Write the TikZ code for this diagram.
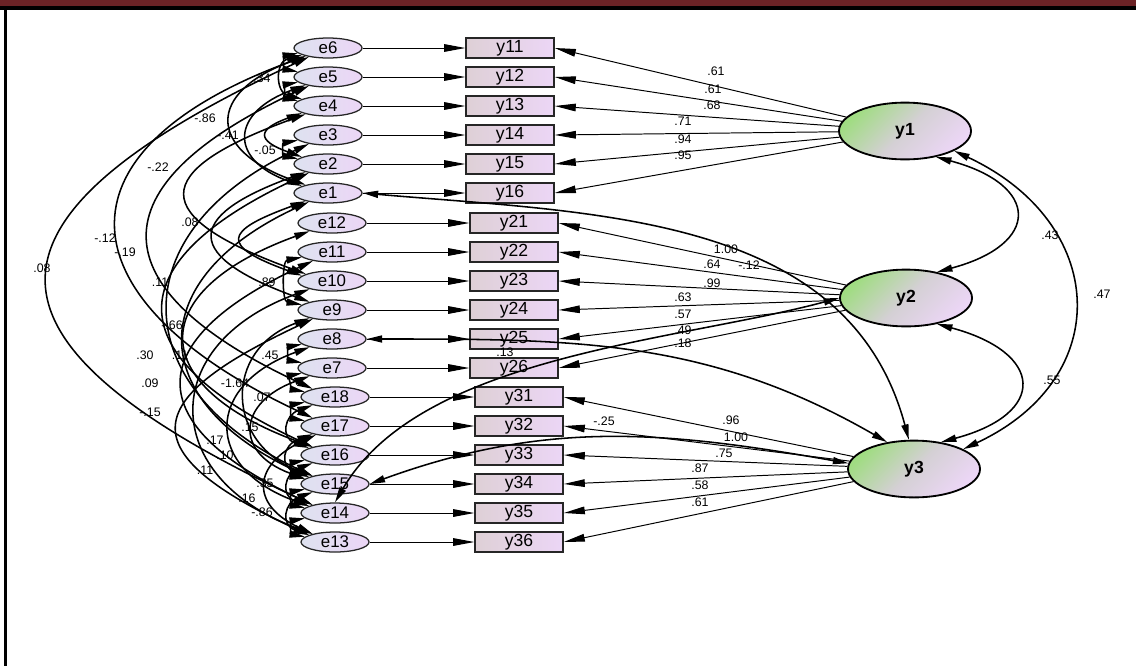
\documentclass[tikz,border=0pt]{standalone}
\usepackage{fontspec}
\setmainfont{Liberation Sans}
\usetikzlibrary{arrows.meta,shapes.geometric}
\definecolor{FrameRed}{RGB}{107,35,38}
\definecolor{ErrBlue}{RGB}{222,226,240}
\definecolor{Lilac}{RGB}{236,214,246}
\definecolor{BoxRose}{RGB}{222,208,214}
\definecolor{LatGreen}{RGB}{160,220,130}
\definecolor{LatGrey}{RGB}{212,208,212}
\tikzset{
  err/.style={ellipse,draw=black!85,line width=.9pt,left color=ErrBlue,right color=Lilac,minimum width=1.7cm,minimum height=.5cm,inner sep=0pt,font=\fontsize{12}{13}\selectfont},
  obs/.style={rectangle,draw=black!85,line width=1pt,left color=BoxRose,right color=Lilac,minimum width=2.2cm,minimum height=.5cm,inner sep=0pt,font=\fontsize{12.5}{13}\selectfont},
  latent/.style={ellipse,draw=black,line width=1.3pt,top color=LatGreen,bottom color=Lilac,middle color=LatGrey,shading angle=45,minimum width=3.3cm,minimum height=1.42cm,font=\bfseries\fontsize{12.5}{13}\selectfont},
  reg/.style={-{Triangle[length=15pt,width=5.4pt]},line width=.7pt},
  cov/.style={{Triangle[length=11pt,width=5pt]}-{Triangle[length=11pt,width=5pt]},line width=1.1pt},
  coef/.style={font=\fontsize{8.8}{10}\selectfont,inner sep=1pt}
}
\begin{document}
\begin{tikzpicture}[x=0.025cm,y=-0.025cm]
  \useasboundingbox (0,0) rectangle (1136,666);
  % page frame
  \fill[FrameRed] (0,0) rectangle (1136,5.5);
  \fill[black] (0,5.5) rectangle (1136,9.5);
  \fill[black] (3.5,5.5) rectangle (6.5,666);

  % latent factors
  \node[latent] (y1) at (905,131) {y1};
  \node[latent] (y2) at (906,298) {y2};
  \node[latent] (y3) at (914,469) {y3};

  % indicators of y1
  \node[obs] (y11) at (510,48) {y11};
  \node[obs] (y12) at (510,77) {y12};
  \node[obs] (y13) at (510,106) {y13};
  \node[obs] (y14) at (510,135) {y14};
  \node[obs] (y15) at (510,164) {y15};
  \node[obs] (y16) at (510,193) {y16};
  % indicators of y2
  \node[obs] (y21) at (514,223) {y21};
  \node[obs] (y22) at (514,252) {y22};
  \node[obs] (y23) at (514,281) {y23};
  \node[obs] (y24) at (514,310) {y24};
  \node[obs] (y25) at (514,339) {y25};
  \node[obs] (y26) at (514,368) {y26};
  % indicators of y3
  \node[obs] (y31) at (519,397) {y31};
  \node[obs] (y32) at (519,426) {y32};
  \node[obs] (y33) at (519,455) {y33};
  \node[obs] (y34) at (519,484) {y34};
  \node[obs] (y35) at (519,513) {y35};
  \node[obs] (y36) at (519,542) {y36};

  % error terms
  \node[err] (e6) at (328,48) {e6};
  \node[err] (e5) at (328,77) {e5};
  \node[err] (e4) at (328,106) {e4};
  \node[err] (e3) at (328,135) {e3};
  \node[err] (e2) at (328,164) {e2};
  \node[err] (e1) at (328,193) {e1};
  \node[err] (e12) at (332,223) {e12};
  \node[err] (e11) at (332,252) {e11};
  \node[err] (e10) at (332,281) {e10};
  \node[err] (e9) at (332,310) {e9};
  \node[err] (e8) at (332,339) {e8};
  \node[err] (e7) at (332,368) {e7};
  \node[err] (e18) at (335,397) {e18};
  \node[err] (e17) at (335,426) {e17};
  \node[err] (e16) at (335,455) {e16};
  \node[err] (e15) at (335,484) {e15};
  \node[err] (e14) at (335,513) {e14};
  \node[err] (e13) at (335,542) {e13};

  % errors into indicators
  \draw[reg] (e6)--(y11); \draw[reg] (e5)--(y12); \draw[reg] (e4)--(y13);
  \draw[reg] (e3)--(y14); \draw[reg] (e2)--(y15); \draw[reg] (e1)--(y16);
  \draw[reg] (e12)--(y21); \draw[reg] (e11)--(y22); \draw[reg] (e10)--(y23);
  \draw[reg] (e9)--(y24); \draw[reg] (e8)--(y25); \draw[reg] (e7)--(y26);
  \draw[reg] (e18)--(y31); \draw[reg] (e17)--(y32); \draw[reg] (e16)--(y33);
  \draw[reg] (e15)--(y34); \draw[reg] (e14)--(y35); \draw[reg] (e13)--(y36);

  % loadings
  \draw[reg] (y1)--(y11.east); \draw[reg] (y1)--(y12.east); \draw[reg] (y1)--(y13.east);
  \draw[reg] (y1)--(y14.east); \draw[reg] (y1)--(y15.east); \draw[reg] (y1)--(y16.east);
  \draw[reg] (y2)--(y21.east); \draw[reg] (y2)--(y22.east); \draw[reg] (y2)--(y23.east);
  \draw[reg] (y2)--(y24.east); \draw[reg] (y2)--(y25.east); \draw[reg] (y2)--(y26.east);
  \draw[reg] (y3)--(y31.east); \draw[reg] (y3)--(y32.east); \draw[reg] (y3)--(y33.east);
  \draw[reg] (y3)--(y34.east); \draw[reg] (y3)--(y35.east); \draw[reg] (y3)--(y36.east);
  \node[coef] at (716,71) {.61};  \node[coef] at (713,89) {.61};  \node[coef] at (712,105) {.68};
  \node[coef] at (683,121) {.71}; \node[coef] at (683,139) {.94}; \node[coef] at (683,155) {.95};
  \node[coef] at (726,249) {1.00}; \node[coef] at (712,264) {.64}; \node[coef] at (712,283) {.99};
  \node[coef] at (683,297) {.63}; \node[coef] at (683,314) {.57}; \node[coef] at (683,330) {.49};
  \node[coef] at (731,420) {.96}; \node[coef] at (736,437) {1.00}; \node[coef] at (724,453) {.75};
  \node[coef] at (700,468) {.87}; \node[coef] at (700,485) {.58}; \node[coef] at (700,502) {.61};

  % factor covariances
  \draw[cov] (y1.-40) to[out=-15,in=15,looseness=2.4] (y2.40);
  \draw[cov] (y1.-22) to[out=-25,in=25,looseness=1.45] (y3.22);
  \draw[cov] (y2.-40) to[out=-15,in=15,looseness=2.4] (y3.45);
  \node[coef] at (1050,235) {.43};
  \node[coef] at (1102,294) {.47};
  \node[coef] at (1052,380) {.55};

  % errors tied to factors
  \draw[cov] (e1.east) to[out=-5,in=105] (y3.100);
  \draw[cov] (e8.east) to[out=0,in=150] (y3.135);
  \draw[cov] (e14.north) to[out=60,in=195,looseness=.8] (y2.west);
  \draw[cov] (e15.east) to[out=20,in=170] (y3.175);
  \node[coef] at (749,265) {-.12};
  \node[coef] at (683,343) {.18};
  \node[coef] at (505,352) {.13};
  \node[coef] at (604,421) {-.25};

  % error covariances, first block
  \draw[cov] (e6.190) to[out=190,in=170,looseness=2] (e5.170);
  \draw[cov] (e6.195) to[out=195,in=165,looseness=1.6] (e4.165);
  \draw[cov] (e5.190) to[out=190,in=170,looseness=1.8] (e4.170);
  \draw[cov] (e6.200) to[out=200,in=160,looseness=2.1] (e1.160);
  \draw[cov] (e5.200) to[out=200,in=160,looseness=2] (e1.165);
  \draw[cov] (e4.195) to[out=200,in=160,looseness=2.8] (e2.165);
  \draw[cov] (e3.190) to[out=190,in=170,looseness=2.2] (e2.170);
  \node[coef] at (262,78) {.34};
  \node[coef] at (205,118) {-.86};
  \node[coef] at (228,135) {-.41};
  \node[coef] at (265,150) {-.05};

  % error covariances across blocks
  \draw[cov] (e6.205) to[out=205,in=155,looseness=2.2] (e14.160);
  \draw[cov] (e6.200) to[out=200,in=155,looseness=1.95] (e17.160);
  \draw[cov] (e5.205) to[out=205,in=155,looseness=2] (e18.160);
  \draw[cov] (e4.200) to[out=200,in=160,looseness=2.7] (e10.165);
  \draw[cov] (e2.200) to[out=200,in=160,looseness=2.6] (e9.160);
  \draw[cov] (e3.205) to[out=205,in=155,looseness=1.6] (e15.160);
  \draw[cov] (e1.200) to[out=200,in=160,looseness=3] (e10.170);
  \draw[cov] (e2.205) to[out=205,in=155,looseness=2] (e16.160);
  \draw[cov] (e1.205) to[out=205,in=155,looseness=1.7] (e15.165);
  \node[coef] at (42,268) {.08};
  \node[coef] at (105,238) {-.12};
  \node[coef] at (125,252) {-.19};
  \node[coef] at (158,167) {-.22};
  \node[coef] at (190,222) {.08};
  \node[coef] at (160,282) {.11};
  \node[coef] at (150,412) {-.15};

  % error covariances, second block
  \draw[cov] (e11.190) to[out=190,in=170,looseness=1.1] (e9.170);
  \draw[cov] (e8.190) to[out=190,in=170,looseness=2] (e7.170);
  \draw[cov] (e12.200) to[out=200,in=160,looseness=2.1] (e16.160);
  \draw[cov] (e11.205) to[out=205,in=155,looseness=2] (e14.160);
  \draw[cov] (e10.200) to[out=200,in=160,looseness=1.7] (e13.160);
  \draw[cov] (e9.205) to[out=205,in=155,looseness=2.3] (e13.165);
  \draw[cov] (e9.200) to[out=200,in=160,looseness=1.5] (e15.160);
  \draw[cov] (e8.200) to[out=200,in=160,looseness=1.8] (e14.165);
  \draw[cov] (e7.200) to[out=200,in=160,looseness=1.9] (e15.170);
  \node[coef] at (267,282) {.89};
  \node[coef] at (270,355) {.45};
  \node[coef] at (172,325) {-.66};
  \node[coef] at (145,355) {.30};
  \node[coef] at (180,355) {.11};
  \node[coef] at (150,383) {.09};
  \node[coef] at (235,383) {-1.64};

  % error covariances, third block
  \draw[cov] (e7.190) to[out=190,in=170,looseness=1.8] (e18.170);
  \draw[cov] (e18.190) to[out=190,in=170,looseness=2] (e17.170);
  \draw[cov] (e18.200) to[out=200,in=160,looseness=1.8] (e16.165);
  \draw[cov] (e17.200) to[out=200,in=160,looseness=1.9] (e15.165);
  \draw[cov] (e16.190) to[out=190,in=170,looseness=2] (e15.170);
  \draw[cov] (e16.200) to[out=200,in=160,looseness=1.8] (e14.165);
  \draw[cov] (e15.190) to[out=190,in=170,looseness=2] (e14.170);
  \draw[cov] (e15.200) to[out=200,in=160,looseness=1.8] (e13.165);
  \draw[cov] (e14.190) to[out=190,in=170,looseness=2] (e13.170);
  \draw[cov] (e17.205) to[out=205,in=155,looseness=1.8] (e13.160);
  \node[coef] at (262,397) {.07};
  \node[coef] at (250,427) {.15};
  \node[coef] at (215,440) {.17};
  \node[coef] at (225,455) {.10};
  \node[coef] at (205,470) {.11};
  \node[coef] at (265,483) {.35};
  \node[coef] at (247,498) {.16};
  \node[coef] at (262,512) {-.86};
\end{tikzpicture}
\end{document}
